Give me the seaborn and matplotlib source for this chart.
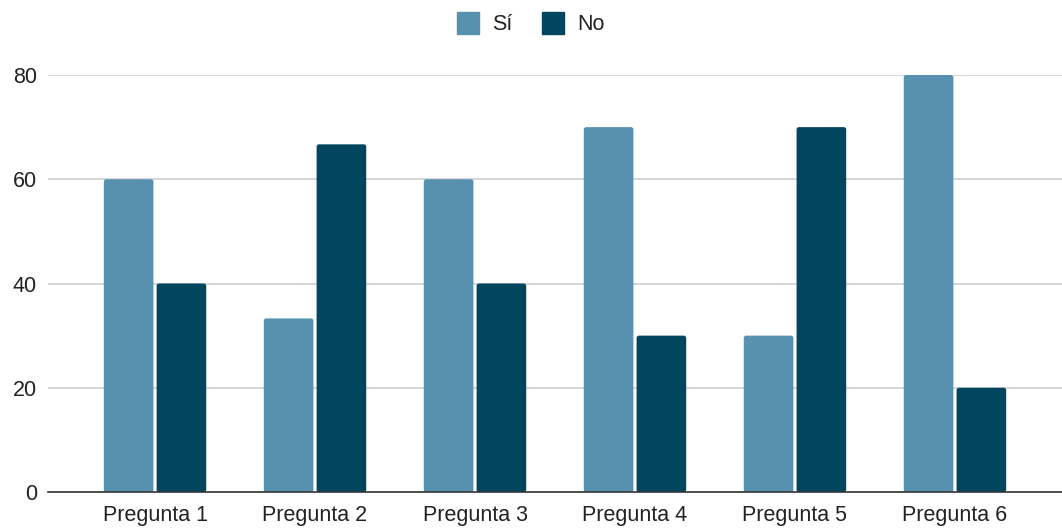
import matplotlib
matplotlib.use("Agg")
import matplotlib.pyplot as plt
import seaborn as sns
import pandas as pd
from matplotlib.patches import FancyBboxPatch
from matplotlib.lines import Line2D

preguntas = ["Pregunta 1", "Pregunta 2", "Pregunta 3", "Pregunta 4", "Pregunta 5", "Pregunta 6"]
si_values = [60, 33.3, 60, 70, 30, 80]
no_values = [40, 66.7, 40, 30, 70, 20]
series = ["Sí", "No"]
colors = {"Sí": "#5891b0", "No": "#01455f"}

df = pd.DataFrame({
    "pregunta": preguntas * 2,
    "respuesta": [series[0]] * len(preguntas) + [series[1]] * len(preguntas),
    "valor": si_values + no_values,
})

sns.set_theme(style="white")
plt.rcParams["font.family"] = ["Liberation Sans", "DejaVu Sans"]

fig = plt.figure(figsize=(10.62, 5.30), dpi=100)
ax = fig.add_axes([48 / 1062, 38 / 530, 1 - 48 / 1062, (492 - 75) / 530])

sns.barplot(data=df, x="pregunta", y="valor", hue="respuesta",
            palette=colors, width=0.66, gap=0.06, legend=False,
            errorbar=None, saturation=1, ax=ax, zorder=3)

ax.set_xlim(-0.669, 5.669)
ax.set_ylim(0, 80)

# y data units per x data unit for equal-pixel corner rounding
bbox = ax.get_window_extent()
aspect = (80 / bbox.height) / ((5.669 + 0.669) / bbox.width)

# replace the plain rectangles with slightly rounded ones
for bar in list(ax.patches):
    x, y = bar.get_x(), bar.get_y()
    w, h = bar.get_width(), bar.get_height()
    fc = bar.get_facecolor()
    bar.remove()
    ax.add_patch(FancyBboxPatch((x, y), w, h,
                                boxstyle="round,pad=0,rounding_size=0.015",
                                mutation_aspect=aspect,
                                facecolor=fc, edgecolor="none",
                                zorder=3, clip_on=False))

ax.set_yticks([0, 20, 40, 60, 80])
ax.yaxis.grid(True, color="#d3d3d3", linewidth=1.3, zorder=0)
ax.xaxis.grid(False)
for side in ["top", "right", "left"]:
    ax.spines[side].set_visible(False)
ax.spines["bottom"].set_color("#333333")
ax.spines["bottom"].set_linewidth(1.2)
ax.spines["bottom"].set_zorder(4)

ax.set_xlabel("")
ax.set_ylabel("")
ax.tick_params(axis="both", length=0, labelsize=15.5, labelcolor="#222222")
ax.tick_params(axis="y", pad=8)
ax.tick_params(axis="x", pad=9)

handles = [Line2D([0], [0], marker="s", linestyle="none", markersize=16,
                  markerfacecolor=colors[s], markeredgecolor=colors[s]) for s in series]
fig.legend(handles, series, loc="center", bbox_to_anchor=(0.5, 1 - 25 / 530),
           ncol=2, frameon=False, fontsize=15.5, handlelength=1.0,
           handletextpad=0.6, columnspacing=1.4, labelcolor="#222222")

fig.savefig("out.png", dpi=100)
